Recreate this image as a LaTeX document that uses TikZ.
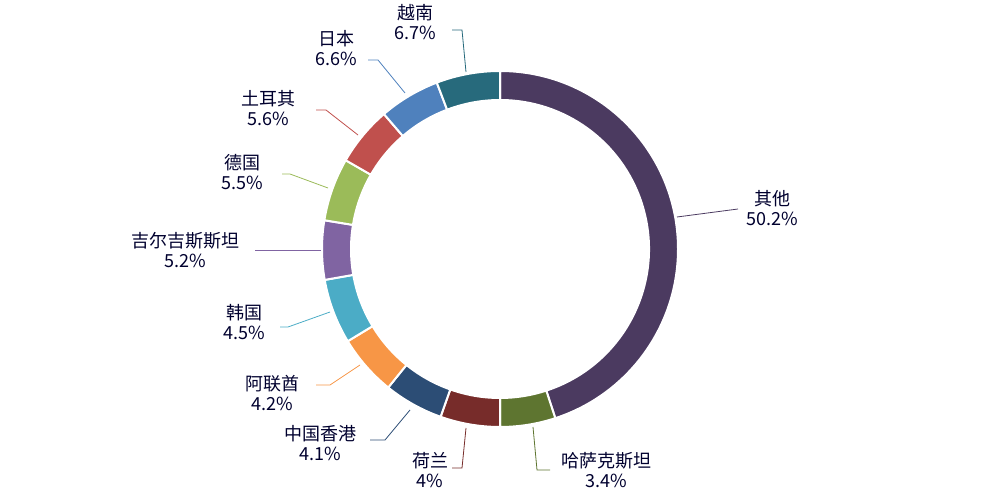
\documentclass[tikz,border=0pt]{standalone}
\usepackage{fontspec}
\setmainfont{Noto Sans CJK SC}
\begin{document}
\begin{tikzpicture}[x=0.75pt,y=0.75pt,
  lbl/.style={font=\fontsize{13.5}{15.5}\selectfont, text=black!70!blue!60!black, align=center, inner sep=0pt},
  lead/.style={line width=0.6pt}]
\useasboundingbox (0,0) rectangle (1000,500);
\coordinate (c) at (500,251);
\def\R{178}\def\r{149}
\foreach \a/\b/\col in {0/161.9/4B3A60, 161.9/180/5E7530, 180/199.5/772C2A, 199.5/218.9/2C4D75, 218.9/238.8/F79646, 238.8/260/4BACC6, 260/279.3/8064A2, 279.3/299.9/9BBB59, 299.9/319.3/C0504D, 319.3/339.2/4F81BD, 339.2/360/276A7C}{
  \definecolor{segc}{HTML}{\col}
  \pgfmathsetmacro\sa{90-\a}\pgfmathsetmacro\ea{90-\b}
  \filldraw[fill=segc, draw=white, line width=1.5pt] ([shift={(\sa:\R)}]c) arc[start angle=\sa, end angle=\ea, radius=\R] -- ([shift={(\ea:\r)}]c) arc[start angle=\ea, end angle=\sa, radius=\r] -- cycle;
}
\definecolor{c1}{HTML}{4B3A60}\definecolor{c2}{HTML}{5E7530}\definecolor{c3}{HTML}{772C2A}
\definecolor{c4}{HTML}{2C4D75}\definecolor{c5}{HTML}{F79646}\definecolor{c6}{HTML}{4BACC6}
\definecolor{c7}{HTML}{8064A2}\definecolor{c8}{HTML}{9BBB59}\definecolor{c9}{HTML}{C0504D}
\definecolor{c10}{HTML}{4F81BD}\definecolor{c11}{HTML}{276A7C}
\node[lbl] (l1) at (772,292) {其他\\50.2\%};
\node[lbl] (l2) at (606,30) {哈萨克斯坦\\3.4\%};
\node[lbl] (l3) at (430,30) {荷兰\\4\%};
\node[lbl] (l4) at (320,57) {中国香港\\4.1\%};
\node[lbl] (l5) at (272,107) {阿联酋\\4.2\%};
\node[lbl] (l6) at (244,178) {韩国\\4.5\%};
\node[lbl] (l7) at (185,250) {吉尔吉斯斯坦\\5.2\%};
\node[lbl] (l8) at (242,328) {德国\\5.5\%};
\node[lbl] (l9) at (268,392) {土耳其\\5.6\%};
\node[lbl] (l10) at (336,452) {日本\\6.6\%};
\node[lbl] (l11) at (415,478) {越南\\6.7\%};
\draw[lead,c1] (677,283) -- (738,291);
\draw[lead,c2] (533,73) -- (537,30) -- (550,30);
\draw[lead,c3] (466,72) -- (462,32) -- (452,32);
\draw[lead,c4] (410,90) -- (385,60) -- (370,60);
\draw[lead,c5] (360,135) -- (330,115) -- (316,115);
\draw[lead,c6] (330,188) -- (288,173) -- (280,173);
\draw[lead,c7] (321,250) -- (255,250);
\draw[lead,c8] (328,312) -- (290,326) -- (282,326);
\draw[lead,c9] (358,365) -- (326,390) -- (316,390);
\draw[lead,c10] (405,407) -- (378,440) -- (368,440);
\draw[lead,c11] (466,428) -- (462,470) -- (452,470);
\end{tikzpicture}
\end{document}
